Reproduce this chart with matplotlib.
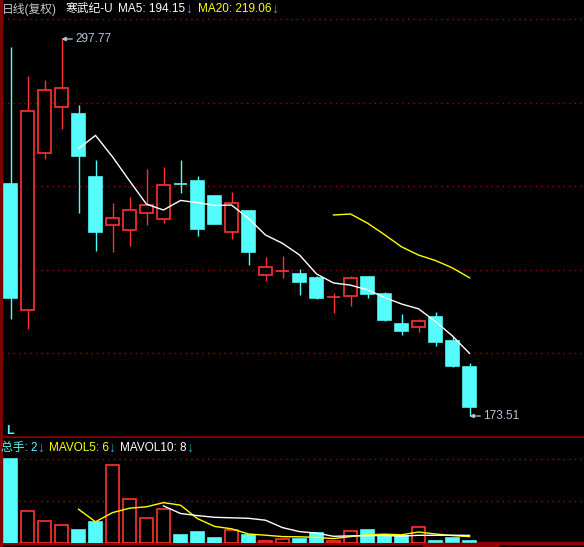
import numpy as np
import pandas as pd
import matplotlib
matplotlib.use('Agg')
import matplotlib.pyplot as plt
from matplotlib.patches import Rectangle
from matplotlib.lines import Line2D

# 日K数据 (复权)
opens = [249.98, 208.45, 260.20, 275.36, 273.05, 252.29, 236.47, 234.82, 240.42, 238.44,
         250.00, 250.97, 246.02, 234.16, 241.08, 219.98, 221.30, 220.31, 219.00, 212.62,
         213.06, 219.33, 213.72, 203.83, 202.84, 206.14, 198.23, 189.66]
highs = [295.13, 285.57, 284.26, 297.77, 276.02, 257.89, 243.72, 245.69, 254.92, 255.58,
         257.89, 252.59, 246.10, 247.34, 241.10, 225.92, 226.25, 221.96, 219.65, 214.05,
         219.65, 219.40, 214.38, 207.13, 205.48, 207.79, 199.55, 190.98]
lows = [205.48, 202.19, 258.21, 268.11, 240.42, 227.89, 227.57, 229.54, 236.47, 237.13,
        247.01, 232.84, 236.70, 231.85, 223.28, 218.01, 219.00, 213.39, 212.07, 207.46,
        209.77, 212.40, 204.82, 200.21, 201.20, 196.58, 189.66, 173.51]
closes = [212.40, 274.04, 280.96, 281.62, 259.21, 234.16, 238.77, 241.41, 243.06, 249.65,
          249.90, 235.15, 236.80, 243.72, 227.57, 222.62, 221.40, 217.68, 212.40, 212.70,
          219.00, 213.72, 205.15, 201.56, 204.82, 197.90, 189.99, 176.48]
volumes = [84, 32, 22, 18, 13, 21, 78, 44, 25, 34,
           8, 11, 5, 13, 8, 2, 4, 4, 10, 2,
           12, 13, 7, 7, 16, 2, 5, 2]

UP = '#FF3232'
DOWN = '#54FCFC'
FRAME = '#8B0000'
GRID = '#A00000'
LABEL = '#B4C8DC'
ARROW = '#20A8D0'

plt.rcParams['font.family'] = ['Liberation Sans', 'Noto Sans CJK SC']

W, H = 584, 547


def frac(left, top, w, h):
    return [left / W, 1 - (top + h) / H, w / W, h / H]


df = pd.DataFrame({'open': opens, 'high': highs, 'low': lows, 'close': closes, 'vol': volumes})
df['ma5'] = df['close'].rolling(5).mean()
df['ma20'] = df['close'].rolling(20).mean()
df['mavol5'] = df['vol'].rolling(5).mean()
df['mavol10'] = df['vol'].rolling(10).mean()
x = np.arange(len(df))

fig = plt.figure(figsize=(5.84, 5.47), dpi=100, facecolor='black')
ax = fig.add_axes(frac(2, 19, 582, 418))
axv = fig.add_axes(frac(2, 438, 582, 105))

for a in (ax, axv):
    a.set_facecolor('black')
    a.set_xticks([])
    a.set_yticks([])
    for s in a.spines.values():
        s.set_visible(False)
    a.set_xlim(-0.5, 33.735)

# main panel
ylo, yhi = 166.59, 304.36
ax.set_ylim(ylo, yhi)
for g in np.linspace(ylo, yhi, 6)[1:]:
    ax.axhline(g, color=GRID, ls=(0, (1, 3)), lw=1, clip_on=False)
ax.axhline(ylo, color=FRAME, lw=1.8, clip_on=False)

bw = 0.74
for i, r in df.iterrows():
    up = r['close'] >= r['open']
    c = UP if up else DOWN
    ax.vlines(i, r['low'], r['high'], color=c, lw=1, zorder=2)
    b0 = min(r['open'], r['close'])
    bh = max(abs(r['close'] - r['open']), 0.15)
    ax.add_patch(Rectangle((i - bw / 2, b0), bw, bh, facecolor='black' if up else c,
                           edgecolor=c, lw=1.2, zorder=3))

ax.plot(x, df['ma5'], color='white', lw=1, zorder=4)
ax.plot(x, df['ma20'], color='#FFFF00', lw=1, zorder=4)

ihi = int(np.argmax(highs))
ilo = int(np.argmin(lows))
for idx, val in ((ihi, highs[ihi]), (ilo, lows[ilo])):
    ax.annotate('%.2f' % val, xy=(idx, val), xytext=(idx + 0.8, val), color=LABEL,
                fontsize=8.5, va='center', ha='left',
                arrowprops=dict(arrowstyle='-|>', color=LABEL, lw=0.9, shrinkA=0,
                                shrinkB=0, mutation_scale=6))

# volume panel
axv.set_ylim(0, 105)
for g in (42, 84):
    axv.axhline(g, color=GRID, ls=(0, (1, 3)), lw=1)
axv.axhline(0, color=FRAME, lw=2.5, clip_on=False)
for i, r in df.iterrows():
    up = r['close'] >= r['open']
    c = UP if up else DOWN
    axv.add_patch(Rectangle((i - bw / 2, 0), bw, r['vol'], facecolor='black' if up else c,
                            edgecolor=c, lw=1.2, zorder=3))
axv.plot(x, df['mavol5'], color='#FFFF00', lw=1, zorder=4)
axv.plot(x, df['mavol10'], color='white', lw=1, zorder=4)

# frame bits
fig.add_artist(Line2D([1 / W, 1 / W], [0, 1], color=FRAME, lw=2))
fig.add_artist(Rectangle((423 / W, 0), 75 / W, 4 / H, color=FRAME))

renderer = fig.canvas.get_renderer()


def chain(px, py, parts):
    # 依次排列一行文字, 每段接在上一段后面
    for s, color, size, gap in parts:
        t = fig.text(px / W, 1 - py / H, s, color=color, fontsize=size, va='center', ha='left')
        bb = t.get_window_extent(renderer)
        px = bb.x1 + gap


chain(2, 9, [('日线(复权)', '#C8C8C8', 8.5, 9),
             ('寒武纪-U', 'white', 8.5, 4),
             ('MA5: %.2f' % df['ma5'].iloc[-1], 'white', 8.5, 0),
             ('↓', ARROW, 10, 6),
             ('MA20: %.2f' % df['ma20'].iloc[-1], '#FFFF00', 8.5, 0),
             ('↓', ARROW, 10, 0)])

chain(1, 448, [('总手: %d' % volumes[-1], DOWN, 8.5, 0),
               ('↓', ARROW, 10, 4),
               ('MAVOL5: %d' % round(df['mavol5'].iloc[-1]), '#FFFF00', 8.5, 0),
               ('↓', ARROW, 10, 4),
               ('MAVOL10: %d' % round(df['mavol10'].iloc[-1]), 'white', 8.5, 0),
               ('↓', ARROW, 10, 0)])

fig.text(6 / W, 1 - 431 / H, 'L', color=DOWN, fontsize=9, fontweight='bold',
         va='center', ha='left')

fig.savefig('out.png', dpi=100, facecolor='black')
